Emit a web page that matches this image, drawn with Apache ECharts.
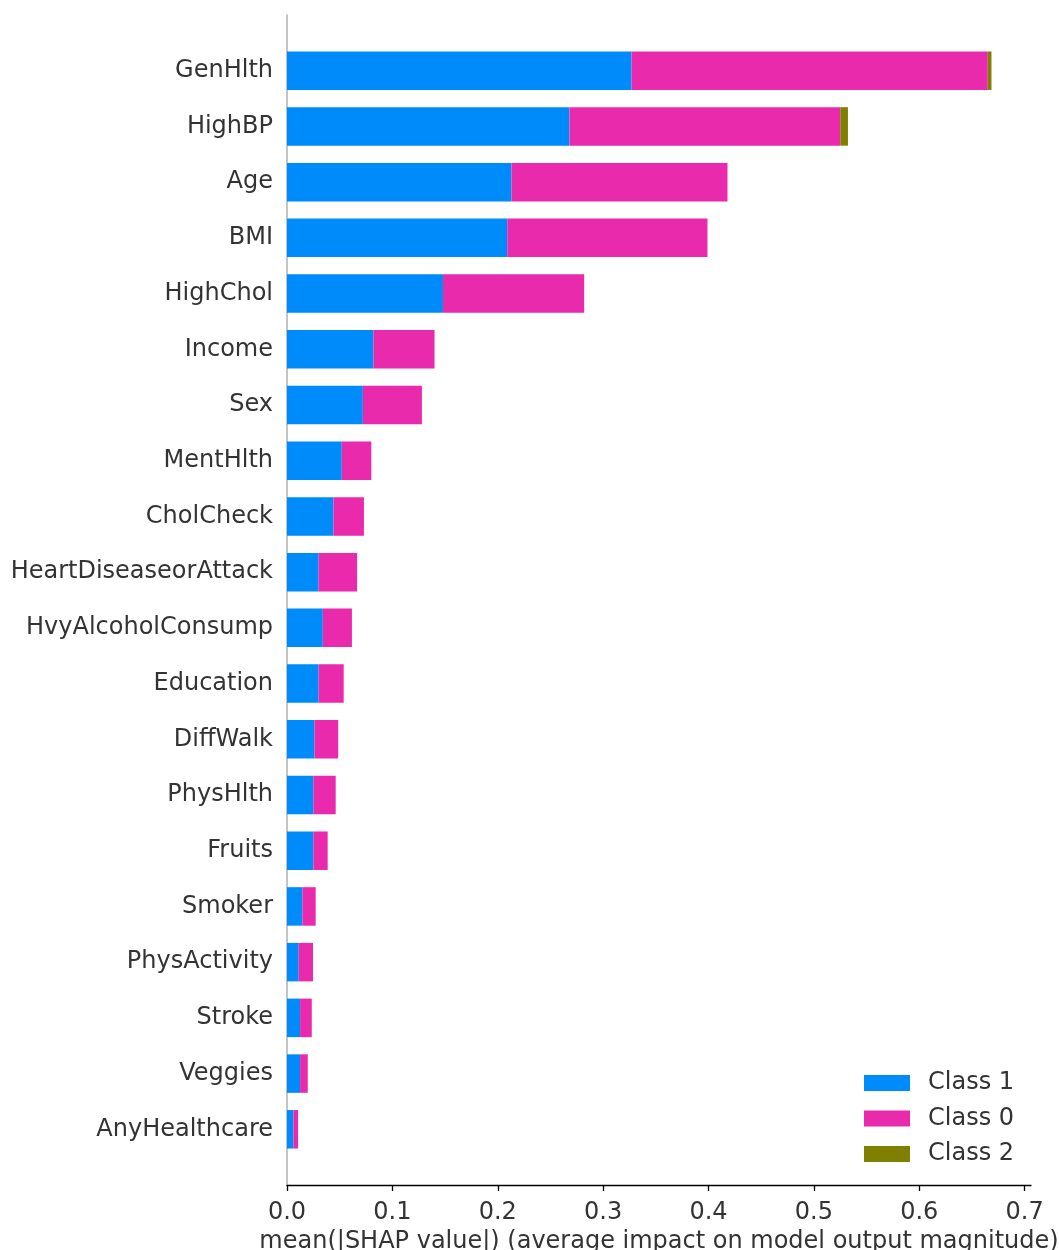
<!DOCTYPE html>
<html>
<head>
<meta charset="utf-8">
<script src="https://cdn.jsdelivr.net/npm/echarts@6/dist/echarts.min.js"></script>
<style>
  html, body { margin: 0; padding: 0; background: #ffffff; }
  #chart { width: 1059px; height: 1250px; }
</style>
</head>
<body>
<div id="chart"></div>
<script>
// Features, ordered from most to least important
const features = [
  'GenHlth', 'HighBP', 'Age', 'BMI', 'HighChol', 'Income', 'Sex', 'MentHlth',
  'CholCheck', 'HeartDiseaseorAttack', 'HvyAlcoholConsump', 'Education',
  'DiffWalk', 'PhysHlth', 'Fruits', 'Smoker', 'PhysActivity', 'Stroke',
  'Veggies', 'AnyHealthcare'
];

// mean(|SHAP value|) per class
const class1 = [
  0.327, 0.268, 0.213, 0.209, 0.148, 0.082, 0.072, 0.052,
  0.044, 0.030, 0.034, 0.030,
  0.026, 0.025, 0.025, 0.0146, 0.0111, 0.0124,
  0.0124, 0.0061
];
const class0 = [
  0.338, 0.257, 0.205, 0.190, 0.134, 0.058, 0.056, 0.028,
  0.029, 0.0365, 0.0276, 0.0238,
  0.0226, 0.0212, 0.0136, 0.0126, 0.0136, 0.0111,
  0.0073, 0.0044
];
const class2 = [
  0.0035, 0.0073, 0, 0, 0, 0, 0, 0,
  0, 0, 0, 0,
  0, 0, 0, 0, 0, 0,
  0, 0
];

// x-axis ticks
const xTicks = [0, 0.1, 0.2, 0.3, 0.4, 0.5, 0.6, 0.7];

const seriesNames = ['Class 1', 'Class 0', 'Class 2'];
const seriesValues = [class1, class0, class2];
const seriesColors = ['#008bfb', '#e92aac', '#808000'];

// One empty slot above and below the features leaves a full row of space
// between the outermost bars and the plot edges.
const axisCats = [''].concat(features, ['']);
const pad = v => ['-'].concat(v, ['-']);

const FONT = 'DejaVu Sans';
const TEXT = '#333333';
const SIZE = 24;

const chart = echarts.init(document.getElementById('chart'), null, { renderer: 'canvas' });

chart.setOption({
  backgroundColor: '#ffffff',
  animation: false,
  grid: {
    left: 287, right: 28, top: 15, bottom: 65,
    containLabel: false, outerBoundsMode: 'none'
  },
  legend: {
    orient: 'vertical',
    left: 864,
    top: 1071,
    padding: 0,
    itemWidth: 46,
    itemHeight: 16,
    itemGap: 11.5,
    icon: 'rect',
    data: seriesNames,
    textStyle: {
      fontFamily: FONT, fontSize: SIZE, color: TEXT, lineHeight: 24,
      padding: [0, 0, 0, 13]
    }
  },
  xAxis: {
    type: 'value',
    min: 0,
    max: 0.706,
    interval: 0.1,
    splitLine: { show: false },
    axisLine: { show: true, onZero: false, lineStyle: { color: '#000000', width: 1.3 } },
    axisTick: {
      show: true, length: 6, customValues: xTicks,
      lineStyle: { color: '#000000', width: 1.3 }
    },
    axisLabel: {
      customValues: xTicks,
      formatter: v => v.toFixed(1),
      fontFamily: FONT, fontSize: SIZE, color: TEXT, margin: 16
    },
    name: 'mean(|SHAP value|) (average impact on model output magnitude)',
    nameLocation: 'middle',
    nameGap: 40,
    nameTextStyle: { fontFamily: FONT, fontSize: SIZE, color: TEXT }
  },
  yAxis: {
    type: 'category',
    data: axisCats,
    inverse: true,
    boundaryGap: false,
    axisLine: { show: true, lineStyle: { color: '#b5b5b5', width: 1.6 } },
    axisTick: { show: false },
    splitLine: { show: false },
    axisLabel: {
      interval: 0,
      fontFamily: FONT, fontSize: SIZE, color: TEXT, margin: 14
    }
  },
  series: seriesNames.map((name, i) => ({
    name: name,
    type: 'bar',
    stack: 'total',
    barWidth: 38.5,
    data: pad(seriesValues[i]),
    itemStyle: { color: seriesColors[i] },
    emphasis: { disabled: true }
  }))
});
</script>
</body>
</html>
